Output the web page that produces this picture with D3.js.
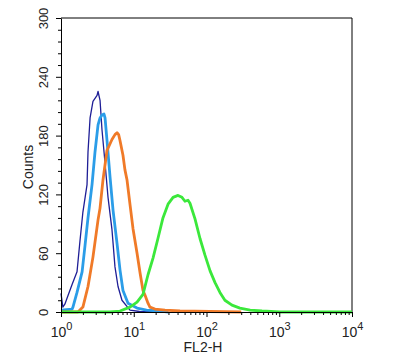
<!DOCTYPE html>
<html>
<head>
<meta charset="utf-8">
<script src="https://cdn.jsdelivr.net/npm/d3@7"></script>
<style>
  body { margin: 0; background: #fff; }
  svg { display: block; font-family: "Liberation Sans", Arial, sans-serif; }
</style>
</head>
<body>
<svg id="chart" width="400" height="364"></svg>
<script>
// FL2-H value, count
const navy = [[1.0, 19], [1.06, 5], [1.13, 8], [1.21, 14], [1.42, 28], [1.66, 41], [1.82, 72], [2.0, 102],
  [2.28, 130], [2.35, 163], [2.51, 198], [2.75, 215], [3.13, 221], [3.23, 225], [3.44, 216], [3.66, 186],
  [4.03, 152], [4.43, 117], [5.02, 84], [5.52, 46], [6.08, 26], [6.89, 12], [8.87, 2], [12, 0.5], [20, 0]];
const lightBlue = [[1.0, 2], [1.42, 3], [1.46, 5], [1.66, 20], [1.95, 41], [2.14, 68], [2.35, 96],
  [2.67, 130], [2.93, 163], [3.23, 191], [3.44, 198], [3.66, 201], [3.9, 202], [4.03, 198], [4.29, 175],
  [4.72, 138], [5.19, 104], [5.89, 70], [6.47, 43], [7.11, 22], [8.34, 9], [11.1, 4], [15, 2], [23, 1], [30, 0]];
const orange = [[1.0, 0], [1.71, 0], [2.0, 5], [2.35, 26], [2.75, 56], [3.23, 94], [3.44, 106], [3.78, 135],
  [4.29, 165], [5.02, 176], [5.52, 181], [5.89, 183], [6.2, 181], [6.47, 175], [7.11, 160], [7.57, 145],
  [8.07, 135], [8.87, 110], [9.77, 85], [11.1, 60], [12.2, 40], [13.4, 22], [14.3, 17], [15.7, 9], [16.7, 5],
  [19.6, 3], [26.9, 2], [43.2, 1], [111, 0.5], [300, 0]];
const green = [[1.0, 0], [4.72, 0], [6.47, 1], [8.87, 5], [11.1, 10], [13.4, 18], [15.7, 38], [18.4, 55],
  [21.5, 75], [25.2, 96], [29.6, 110], [34.7, 117], [40.6, 119], [46.0, 117], [50.6, 113], [55.7, 114],
  [59.3, 111], [69.5, 95], [81.4, 75], [95.3, 58], [112, 42], [131, 30], [153, 20], [179, 12], [224, 7],
  [288, 4], [398, 2], [579, 1], [1020, 0], [10000, 0]];

const yTicks = [0, 60, 120, 180, 240, 300];
const xTicks = [1, 10, 100, 1000, 10000];

const series = [
  { data: navy, color: "#1e1e96", width: 1.3 },
  { data: lightBlue, color: "#2b9de8", width: 2.8 },
  { data: orange, color: "#f07a28", width: 2.8 },
  { data: green, color: "#3be83b", width: 2.8 }
];

const svg = d3.select("#chart");
const x = d3.scaleLog().domain([1, 10000]).range([61, 352]);
const y = d3.scaleLinear().domain([0, 300]).range([312, 18]);

// frame top + right
svg.append("path")
  .attr("d", `M${x(1)},${y(300)}H${x(10000)}V${y(0)}`)
  .attr("fill", "none").attr("stroke", "#000").attr("stroke-width", 1);

const line = d3.line()
  .x(d => x(d[0]))
  .y(d => y(d[1]));

svg.selectAll(".hist")
  .data(series)
  .join("path")
  .attr("class", "hist")
  .attr("d", d => line(d.data))
  .attr("fill", "none")
  .attr("stroke", d => d.color)
  .attr("stroke-width", d => d.width)
  .attr("stroke-linejoin", "round");

// y axis: minor ticks every 12
const yMinor = d3.range(0, 301, 12).filter(v => v % 60 !== 0);
svg.append("g")
  .attr("transform", `translate(${x(1)},0)`)
  .call(d3.axisLeft(y).tickValues(yMinor).tickSize(3).tickFormat(""))
  .call(g => g.select(".domain").remove());
const yAxis = svg.append("g")
  .attr("transform", `translate(${x(1)},0)`)
  .call(d3.axisLeft(y).tickValues(yTicks).tickSize(5).tickSizeOuter(0));
yAxis.selectAll("text").remove();
yAxis.selectAll(".tick")
  .append("text")
  .attr("transform", "translate(-13,0) rotate(-90)")
  .attr("text-anchor", "middle")
  .attr("fill", "#222")
  .attr("font-size", 13)
  .text(d => d);

// x axis
const xMinor = [];
for (let p = 0; p < 4; p++) for (let k = 2; k <= 9; k++) xMinor.push(k * Math.pow(10, p));
svg.append("g")
  .attr("transform", `translate(0,${y(0)})`)
  .call(d3.axisBottom(x).tickValues(xMinor).tickSize(3).tickFormat(""))
  .call(g => g.select(".domain").remove());
const xAxis = svg.append("g")
  .attr("transform", `translate(0,${y(0)})`)
  .call(d3.axisBottom(x).tickValues(xTicks).tickSize(5).tickSizeOuter(0));
xAxis.selectAll("text").remove();
const xl = xAxis.selectAll(".tick")
  .append("text")
  .attr("y", 25)
  .attr("fill", "#222")
  .attr("font-size", 14)
  .attr("text-anchor", "middle");
xl.append("tspan").text("10");
xl.append("tspan")
  .attr("dy", -7)
  .attr("font-size", 11)
  .text(d => Math.round(Math.log10(d)));

svg.selectAll(".domain").attr("stroke", "#000");
svg.selectAll(".tick line").attr("stroke", "#000");

svg.append("text")
  .attr("x", 203).attr("y", 352)
  .attr("text-anchor", "middle")
  .attr("font-size", 14)
  .attr("fill", "#222")
  .text("FL2-H");

svg.append("text")
  .attr("transform", "translate(33,167) rotate(-90)")
  .attr("text-anchor", "middle")
  .attr("font-size", 14)
  .attr("fill", "#222")
  .text("Counts");
</script>
</body>
</html>
